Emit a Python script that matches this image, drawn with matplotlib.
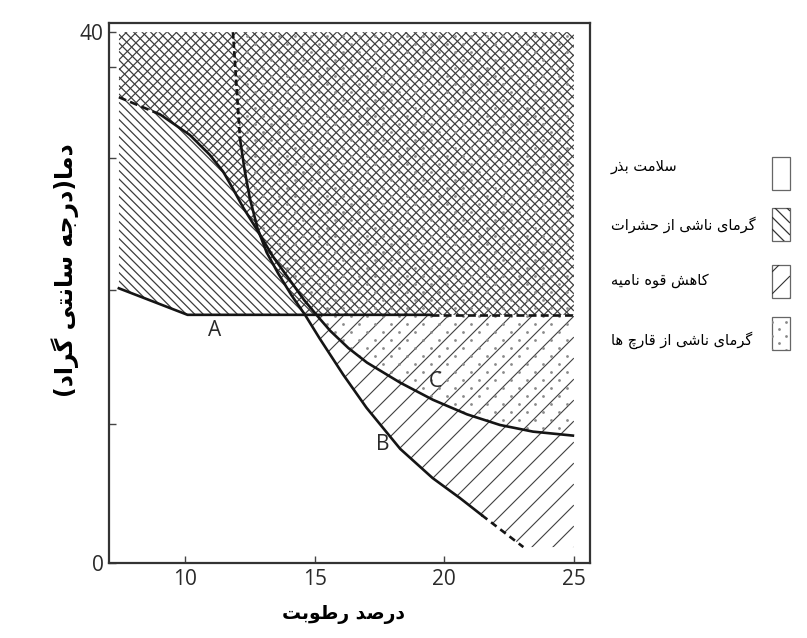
import numpy as np
import matplotlib
matplotlib.use("Agg")
import matplotlib.pyplot as plt
from matplotlib.collections import LineCollection
from matplotlib.lines import Line2D
from matplotlib.patches import Polygon
from matplotlib.transforms import IdentityTransform

# --- data (moisture %, temperature C) ---
a_solid_x = [7.45, 10.1, 19.5]
a_solid_y = [20.7, 18.7, 18.7]
a_dash_x = [19.5, 25.0]
a_dash_y = [18.7, 18.7]

b_top_x = [11.85, 12.12]          # dashed vertical part
b_top_y = [40.0, 32.0]
b_x = [12.12, 12.3, 12.5, 12.8, 13.15, 13.6, 14.1, 14.63, 15.2, 16.1, 17.0,
       18.3, 19.55, 20.6, 21.45]
b_y = [32.0, 29.6, 27.5, 25.2, 23.4, 21.8, 20.2, 18.7, 16.9, 14.2, 11.7,
       8.6, 6.4, 4.9, 3.6]
b_end_x = [21.45, 23.05]          # dashed tail
b_end_y = [3.6, 1.2]

c_dash_x = [7.45, 9.04]
c_dash_y = [35.1, 33.8]
c_x = [9.04, 10.19, 10.96, 11.47, 11.85, 12.24, 12.78, 13.39, 14.05, 14.6,
       15.2, 15.6, 16.3, 17.02, 18.29, 19.56, 20.88, 22.15, 23.42, 24.96]
c_y = [33.8, 32.25, 30.75, 29.5, 28.2, 26.8, 25.1, 23.1, 21.3, 19.8,
       18.4, 17.5, 16.2, 15.1, 13.6, 12.3, 11.2, 10.4, 9.9, 9.6]

x_ticks = [10, 15, 20, 25]
y_ticks = [0, 10.5, 20.6, 30.5, 37.4, 40]
y_tick_labels = ["0", "", "", "", "", "40"]

x_label = "درصد رطوبت"
y_label = "دما(درجه سانتی گراد)"
legend_labels = ["سلامت بذر", "گرمای ناشی از حشرات", "کاهش قوه نامیه",
                 "گرمای ناشی از قارچ ها"]

# --- tiny arabic/persian shaper (matplotlib has no shaping) ---
FORMS = {
    "ا": ("\uFE8D", "\uFE8E", None, None),
    "ب": ("\uFE8F", "\uFE90", "\uFE91", "\uFE92"),
    "ت": ("\uFE95", "\uFE96", "\uFE97", "\uFE98"),
    "ج": ("\uFE9D", "\uFE9E", "\uFE9F", "\uFEA0"),
    "چ": ("\uFB7A", "\uFB7B", "\uFB7C", "\uFB7D"),
    "ح": ("\uFEA1", "\uFEA2", "\uFEA3", "\uFEA4"),
    "د": ("\uFEA9", "\uFEAA", None, None),
    "ذ": ("\uFEAB", "\uFEAC", None, None),
    "ر": ("\uFEAD", "\uFEAE", None, None),
    "ز": ("\uFEAF", "\uFEB0", None, None),
    "س": ("\uFEB1", "\uFEB2", "\uFEB3", "\uFEB4"),
    "ش": ("\uFEB5", "\uFEB6", "\uFEB7", "\uFEB8"),
    "ص": ("\uFEB9", "\uFEBA", "\uFEBB", "\uFEBC"),
    "ط": ("\uFEC1", "\uFEC2", "\uFEC3", "\uFEC4"),
    "ق": ("\uFED5", "\uFED6", "\uFED7", "\uFED8"),
    "ک": ("\uFB8E", "\uFB8F", "\uFB90", "\uFB91"),
    "گ": ("\uFB92", "\uFB93", "\uFB94", "\uFB95"),
    "ل": ("\uFEDD", "\uFEDE", "\uFEDF", "\uFEE0"),
    "م": ("\uFEE1", "\uFEE2", "\uFEE3", "\uFEE4"),
    "ن": ("\uFEE5", "\uFEE6", "\uFEE7", "\uFEE8"),
    "ه": ("\uFEE9", "\uFEEA", "\uFEEB", "\uFEEC"),
    "و": ("\uFEED", "\uFEEE", None, None),
    "ی": ("\uFBFC", "\uFBFD", "\uFBFE", "\uFBFF"),
}
MIRROR = {"(": ")", ")": "("}


def shape(text):
    out = []
    i, n = 0, len(text)
    while i < n:
        c = text[i]
        if c not in FORMS:
            out.append(MIRROR.get(c, c))
            i += 1
            continue
        prev = text[i - 1] if i > 0 else ""
        joined = prev in FORMS and FORMS[prev][2] is not None
        if c == "ل" and i + 1 < n and text[i + 1] == "ا":
            out.append("\uFEFC" if joined else "\uFEFB")
            i += 2
            continue
        nxt = text[i + 1] if i + 1 < n else ""
        links = nxt in FORMS and FORMS[c][2] is not None
        iso, fin, ini, med = FORMS[c]
        if joined and links:
            out.append(med)
        elif joined:
            out.append(fin)
        elif links:
            out.append(ini)
        else:
            out.append(iso)
        i += 1
    return "".join(reversed(out))


def hatch_lines(parent, clip, sign, step, lw, color):
    ext = clip.get_path().transformed(clip.get_transform()).get_extents()
    x0, y0, x1, y1 = ext.x0, ext.y0, ext.x1, ext.y1
    if sign > 0:
        cs = np.arange(y0 - x1, y1 - x0 + step, step)
        segs = [[(x0, x0 + c), (x1, x1 + c)] for c in cs]
    else:
        cs = np.arange(y0 + x0, y1 + x1 + step, step)
        segs = [[(x0, c - x0), (x1, c - x1)] for c in cs]
    lc = LineCollection(segs, colors=color, linewidths=lw,
                        transform=IdentityTransform())
    parent.add_artist(lc)
    lc.set_clip_path(clip)


def dots(parent, clip, step, color, ms):
    ext = clip.get_path().transformed(clip.get_transform()).get_extents()
    px, py = [], []
    for r, yy in enumerate(np.arange(ext.y0, ext.y1 + step, step * 0.5)):
        off = (r % 2) * step * 0.5
        for xx in np.arange(ext.x0 + off, ext.x1 + step, step):
            px.append(xx)
            py.append(yy)
    ln = Line2D(px, py, ls="none", marker="o", ms=ms, mew=0, color=color,
                transform=IdentityTransform())
    parent.add_artist(ln)
    ln.set_clip_path(clip)


# --- figure ---
fig = plt.figure(figsize=(8.07, 6.38), dpi=100)
ax = fig.add_axes([109 / 807, 75 / 638, 481 / 807, 540 / 638])
ax.set_xlim(7.07, 25.62)
ax.set_ylim(0, 40.69)

# region boundaries on a fine grid
xs = np.linspace(7.45, 25.0, 1500)
av = np.interp(xs, a_solid_x + a_dash_x[1:], a_solid_y + a_dash_y[1:])
bv = np.interp(xs, b_top_x + b_x[1:] + b_end_x[1:],
               b_top_y + b_y[1:] + b_end_y[1:], left=40.0, right=1.2)
cv = np.interp(xs, c_dash_x + c_x[1:], c_dash_y + c_y[1:])
top = np.full_like(xs, 40.0)
low_bc = np.minimum(bv, cv)
high_bc = np.maximum(bv, cv)


def region(lower, upper):
    lower = np.minimum(lower, upper)
    verts = np.vstack([np.column_stack([xs, upper]),
                       np.column_stack([xs[::-1], lower[::-1]])])
    return Polygon(verts, closed=True, transform=ax.transData)


insects = region(av, top)
viab_dense = region(np.maximum(low_bc, av), top)
viab_sparse = region(low_bc, av)
fungi = region(high_bc, top)

hatch_lines(ax, insects, -1, 8.5, 0.9, "#3c3c3c")
hatch_lines(ax, viab_dense, 1, 10.0, 0.85, "#3c3c3c")
hatch_lines(ax, viab_sparse, 1, 21.0, 0.8, "#404040")
dots(ax, fungi, 16.0, "#8a8a8a", 2.0)

# curves
lw = 1.9
ink = "#151515"
ax.plot(a_solid_x, a_solid_y, color=ink, lw=lw, zorder=4)
ax.plot(a_dash_x, a_dash_y, color=ink, lw=lw, dashes=(3.0, 1.6), zorder=4)
ax.plot(b_top_x, b_top_y, color=ink, lw=lw, dashes=(2.4, 1.2), zorder=4)
ax.plot(b_x, b_y, color=ink, lw=lw, zorder=4)
ax.plot(b_end_x, b_end_y, color=ink, lw=lw, dashes=(2.6, 1.8), zorder=4)
ax.plot(c_dash_x, c_dash_y, color=ink, lw=lw, dashes=(3.0, 1.6), zorder=4)
ax.plot(c_x, c_y, color=ink, lw=lw, zorder=4)

lbl = dict(fontsize=15, color="#2a2a2a", family="Open Sans", ha="center",
           va="center", zorder=5)
ax.text(11.16, 17.55, "A", **lbl)
ax.text(17.64, 8.9, "B", **lbl)
ax.text(19.65, 13.7, "C", **lbl)

# axes styling
for s in ax.spines.values():
    s.set_color("#333333")
    s.set_linewidth(1.6)
ax.set_xticks(x_ticks)
ax.set_yticks(y_ticks)
ax.set_yticklabels(y_tick_labels)
ax.tick_params(direction="in", length=5, width=1, color="#444444",
               labelsize=15, labelcolor="#2a2a2a", pad=4)
for t in ax.get_xticklabels() + ax.get_yticklabels():
    t.set_family("Open Sans")

# overlay in pixel coordinates for labels and legend
lax = fig.add_axes([0, 0, 1, 1])
lax.set_xlim(0, 807)
lax.set_ylim(638, 0)
lax.axis("off")

lax.text(343, 614, shape(x_label), fontsize=13.5, fontweight="bold",
         family="DejaVu Sans", ha="center", va="center")
lax.text(65, 270, shape(y_label), fontsize=17, fontweight="bold",
         family="DejaVu Sans", ha="center", va="center", rotation=90)

box_tops = [157, 208, 265, 317]
text_rows = [167, 225, 281, 340]
for k, (bt, tr, lab) in enumerate(zip(box_tops, text_rows, legend_labels)):
    r = Polygon([(772, bt), (790, bt), (790, bt + 33), (772, bt + 33)],
                closed=True, facecolor="white", edgecolor="#666666", lw=0.9)
    lax.add_patch(r)
    if k == 1:
        hatch_lines(lax, r, -1, 12.0, 0.9, "#333333")
    elif k == 2:
        hatch_lines(lax, r, 1, 22.0, 0.8, "#333333")
    elif k == 3:
        dots(lax, r, 14.0, "#888888", 2.0)
    lax.text(611, tr, shape(lab), fontsize=10.5, family="DejaVu Sans",
             ha="left", va="center")

fig.savefig("out.png", dpi=100)
